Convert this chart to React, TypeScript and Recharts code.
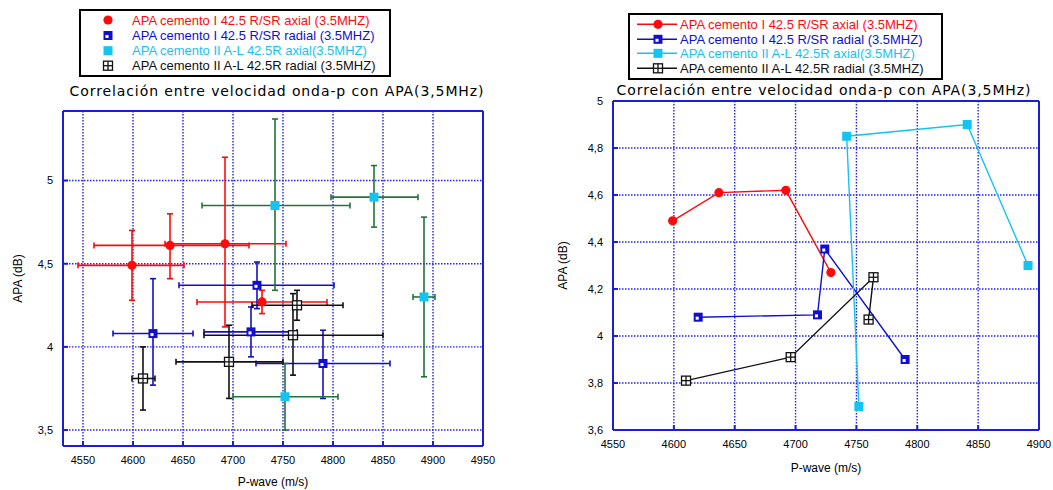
import React from 'react';
import { ScatterChart, Scatter, XAxis, YAxis, CartesianGrid, ErrorBar, Legend, Label } from 'recharts';

// ---- text ----
const seriesNames = [
  'APA cemento I 42.5 R/SR axial (3.5MHZ)',
  'APA cemento I 42.5 R/SR radial (3.5MHZ)',
  'APA cemento II A-L 42.5R axial(3.5MHZ)',
  'APA cemento II A-L 42.5R radial (3.5MHZ)',
];
const chartTitle = 'Correlación entre velocidad onda-p con APA(3,5MHz)';
const xLabel = 'P-wave (m/s)';
const yLabel = 'APA (dB)';

// ---- series: cemento I axial (red) ----
const axI_x = [4599, 4637, 4692, 4729];
const axI_y = [4.49, 4.61, 4.62, 4.27];
const axI_xLo = [4545, 4561, 4632, 4664];
const axI_xHi = [4651, 4716, 4753, 4794];
const axI_yLo = [4.28, 4.41, 4.12, 4.2];
const axI_yHi = [4.7, 4.8, 5.14, 4.34];

// ---- series: cemento I radial (blue) ----
const raI_x = [4620, 4718, 4724, 4790];
const raI_y = [4.08, 4.09, 4.37, 3.9];
const raI_xLo = [4580, 4671, 4646, 4723];
const raI_xHi = [4660, 4764, 4801, 4857];
const raI_yLo = [3.77, 3.94, 4.23, 3.69];
const raI_yHi = [4.41, 4.24, 4.51, 4.1];

// ---- series: cemento II axial (cyan, green error bars) ----
const axII_x = [4752, 4742, 4841, 4891];
const axII_y = [3.7, 4.85, 4.9, 4.3];
const axII_xLo = [4700, 4669, 4798, 4880];
const axII_xHi = [4805, 4817, 4885, 4902];
const axII_yLo = [3.5, 4.34, 4.72, 3.82];
const axII_yHi = [3.9, 5.37, 5.09, 4.78];

// ---- series: cemento II radial (black) ----
const raII_x = [4610, 4696, 4764, 4760];
const raII_y = [3.81, 3.91, 4.25, 4.07];
const raII_xLo = [4599, 4643, 4719, 4671];
const raII_xHi = [4622, 4750, 4810, 4850];
const raII_yLo = [3.62, 3.69, 4.16, 3.83];
const raII_yHi = [4.0, 4.13, 4.34, 4.32];

// ---- axes ----
const leftXTicks = [4550, 4600, 4650, 4700, 4750, 4800, 4850, 4900, 4950];
const leftYTicks = [3.5, 4, 4.5, 5];
const rightXTicks = [4550, 4600, 4650, 4700, 4750, 4800, 4850, 4900];
const rightYTicks = [3.6, 3.8, 4, 4.2, 4.4, 4.6, 4.8, 5];
const leftXDomain = [4530, 4950];
const leftYDomain = [3.404, 5.418];
const rightXDomain = [4550, 4900];
const rightYDomain = [3.6, 5];

const build = (xs: number[], ys: number[], xlo: number[], xhi: number[], ylo: number[], yhi: number[]) =>
  xs.map((x, i) => ({
    x,
    y: ys[i],
    ex: [x - xlo[i], xhi[i] - x],
    ey: [ys[i] - ylo[i], yhi[i] - ys[i]],
  }));

const RED = '#ff0a0a';
const BLUE = '#1010cc';
const CYAN = '#14c3f2';
const GREEN = '#22743a';
const BLACK = '#111111';
const FRAME = '#1c1cdc';
const GRID = '#2020ff';

const markerCircle = (c: string) => (p: any) => <circle cx={p.cx} cy={p.cy} r={4.6} fill={c} />;
const markerBlueSq = (p: any) => (
  <g>
    <rect x={p.cx - 4.5} y={p.cy - 4.5} width={9} height={9} fill={BLUE} />
    <rect x={p.cx - 2.5} y={p.cy - 0.5} width={3} height={3} fill="#fff" />
  </g>
);
const markerCyanSq = (p: any) => <rect x={p.cx - 4.5} y={p.cy - 4.5} width={9} height={9} fill={CYAN} />;
const markerGridSq = (p: any) => (
  <g stroke={BLACK} strokeWidth={1.3} fill="#fff">
    <rect x={p.cx - 4.5} y={p.cy - 4.5} width={9} height={9} />
    <line x1={p.cx - 4.5} y1={p.cy} x2={p.cx + 4.5} y2={p.cy} />
    <line x1={p.cx} y1={p.cy - 4.5} x2={p.cx} y2={p.cy + 4.5} />
  </g>
);

const series = [
  { name: seriesNames[0], color: RED, err: RED, data: build(axI_x, axI_y, axI_xLo, axI_xHi, axI_yLo, axI_yHi), shape: markerCircle(RED) },
  { name: seriesNames[1], color: BLUE, err: BLUE, data: build(raI_x, raI_y, raI_xLo, raI_xHi, raI_yLo, raI_yHi), shape: markerBlueSq },
  { name: seriesNames[2], color: CYAN, err: GREEN, data: build(axII_x, axII_y, axII_xLo, axII_xHi, axII_yLo, axII_yHi), shape: markerCyanSq },
  { name: seriesNames[3], color: BLACK, err: BLACK, data: build(raII_x, raII_y, raII_xLo, raII_xHi, raII_yLo, raII_yHi), shape: markerGridSq },
];

const fmt = (v: number) => String(v).replace('.', ',');
const tickStyle = { fontSize: 11, fill: '#000', fontFamily: 'Liberation Sans, Arial, sans-serif' };
const labelStyle = { fontSize: 12, fill: '#000', fontFamily: 'Liberation Sans, Arial, sans-serif' };
const titleStyle = { fontSize: 14, fill: '#000', fontFamily: 'DejaVu Sans, sans-serif', letterSpacing: 0.9 };
const frameLine = { stroke: FRAME, strokeWidth: 2 };
const tickMark = { stroke: FRAME, strokeWidth: 2 };

const LegendBox = ({ w, h, rowY, markX, textX, withLine }: any) => (
  <svg width={w} height={h} style={{ display: 'block' }}>
    <rect x={1} y={1} width={w - 2} height={h - 2} fill="#fff" stroke="#000" strokeWidth={2} />
    {series.map((s, i) => (
      <g key={s.name}>
        {withLine && <line x1={markX - 21} x2={markX + 19} y1={rowY[i]} y2={rowY[i]} stroke={s.color} strokeWidth={1.4} />}
        {s.shape({ cx: markX, cy: rowY[i] })}
        <text x={textX} y={rowY[i] + 4.5} fill={s.color} fontSize={13} fontFamily="Liberation Sans, Arial, sans-serif">
          {s.name}
        </text>
      </g>
    ))}
  </svg>
);

export default function App() {
  return (
    <div style={{ position: 'absolute', left: 0, top: 0, width: 1053, height: 490, background: '#fff', overflow: 'hidden' }}>
      {/* left chart with error bars */}
      <div style={{ position: 'absolute', left: 0, top: 0 }}>
        <ScatterChart width={530} height={490} margin={{ top: 71, right: 46, bottom: 4, left: 13 }}>
          <CartesianGrid stroke={GRID} strokeDasharray="1.5 1.5" strokeWidth={1.4} />
          <XAxis type="number" dataKey="x" domain={leftXDomain} allowDataOverflow ticks={leftXTicks} interval={0}
            tick={tickStyle} tickLine={tickMark} tickSize={-5} tickMargin={15} height={40} axisLine={frameLine}>
            <Label value={xLabel} position="insideBottom" offset={0} style={labelStyle} />
          </XAxis>
          <XAxis xAxisId="top" orientation="top" type="number" dataKey="x" domain={leftXDomain} allowDataOverflow
            ticks={leftXTicks} interval={0} tick={false} tickLine={tickMark} tickSize={-5} height={40} axisLine={frameLine}>
            <Label value={chartTitle} position="center" dx={4} style={titleStyle} />
          </XAxis>
          <YAxis type="number" dataKey="y" domain={leftYDomain} allowDataOverflow ticks={leftYTicks} interval={0}
            tickFormatter={fmt} tick={tickStyle} tickLine={tickMark} tickSize={-5} tickMargin={15} width={50} axisLine={frameLine}>
            <Label value={yLabel} angle={-90} position="insideLeft" offset={5} style={{ ...labelStyle, textAnchor: 'middle' }} />
          </YAxis>
          <YAxis yAxisId="r" orientation="right" type="number" domain={leftYDomain} allowDataOverflow ticks={leftYTicks}
            interval={0} tick={false} tickLine={tickMark} tickSize={-5} width={1} axisLine={frameLine} />
          <Legend layout="vertical" align="center" verticalAlign="middle"
            wrapperStyle={{ left: 79, top: 9, width: 312, height: 68 }}
            content={() => <LegendBox w={312} h={68} rowY={[11, 26.5, 41.7, 56.7]} markX={29} textX={53} withLine={false} />} />
          {series.map((s) => (
            <Scatter key={s.name} name={s.name} data={s.data} fill={s.color} shape={s.shape} isAnimationActive={false}>
              <ErrorBar dataKey="ex" direction="x" stroke={s.err} strokeWidth={1.6} width={3} />
              <ErrorBar dataKey="ey" direction="y" stroke={s.err} strokeWidth={1.6} width={3} />
            </Scatter>
          ))}
        </ScatterChart>
      </div>

      {/* right chart with joined points */}
      <div style={{ position: 'absolute', left: 530, top: 0 }}>
        <ScatterChart width={523} height={490} margin={{ top: 79, right: 13, bottom: 20, left: 28 }}>
          <CartesianGrid stroke={GRID} strokeDasharray="1.5 1.5" strokeWidth={1.4} />
          <XAxis type="number" dataKey="x" domain={rightXDomain} allowDataOverflow ticks={rightXTicks} interval={0}
            tick={tickStyle} tickLine={tickMark} tickSize={-5} tickMargin={15} height={40} axisLine={frameLine}>
            <Label value={xLabel} position="insideBottom" offset={-2} style={labelStyle} />
          </XAxis>
          <XAxis xAxisId="top" orientation="top" type="number" dataKey="x" domain={rightXDomain} allowDataOverflow
            ticks={rightXTicks} interval={0} tick={false} tickLine={tickMark} tickSize={-5} height={22} axisLine={frameLine}>
            <Label value={chartTitle} position="center" dx={-2} style={titleStyle} />
          </XAxis>
          <YAxis type="number" dataKey="y" domain={rightYDomain} allowDataOverflow ticks={rightYTicks} interval={0}
            tickFormatter={fmt} tick={tickStyle} tickLine={tickMark} tickSize={-5} tickMargin={15} width={55} axisLine={frameLine}>
            <Label value={yLabel} angle={-90} position="insideLeft" offset={5} style={{ ...labelStyle, textAnchor: 'middle' }} />
          </YAxis>
          <YAxis yAxisId="r" orientation="right" type="number" domain={rightYDomain} allowDataOverflow ticks={rightYTicks}
            interval={0} tick={false} tickLine={tickMark} tickSize={-5} width={1} axisLine={frameLine} />
          <Legend layout="vertical" align="center" verticalAlign="middle"
            wrapperStyle={{ left: 98, top: 13, width: 315, height: 67 }}
            content={() => <LegendBox w={315} h={67} rowY={[11.3, 26.3, 40.3, 55.3]} markX={30} textX={52} withLine={true} />} />
          {series.map((s) => (
            <Scatter key={s.name} name={s.name} data={s.data} fill={s.color} shape={s.shape}
              line={{ stroke: s.color, strokeWidth: 1.4 }} lineType="joint" isAnimationActive={false} />
          ))}
        </ScatterChart>
      </div>
    </div>
  );
}
